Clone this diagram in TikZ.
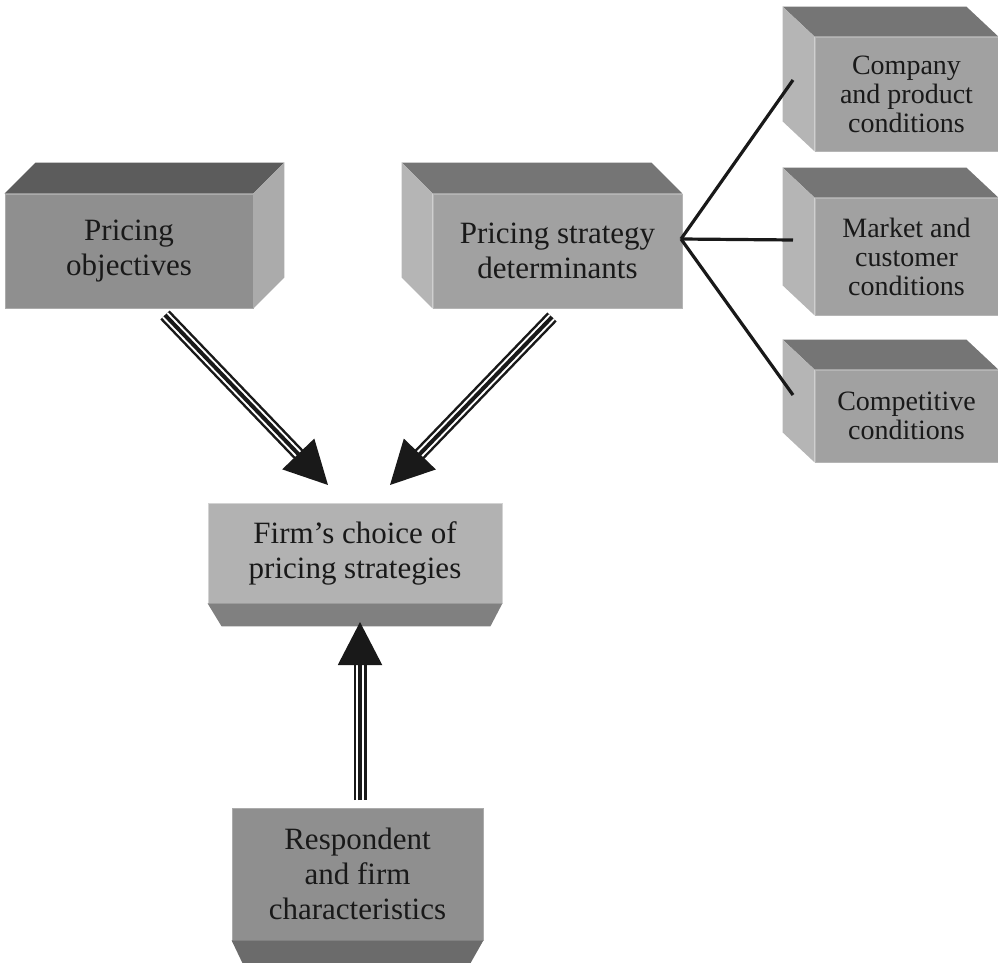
\documentclass[tikz,border=0pt]{standalone}
\usepackage{fontspec}
\setmainfont{Liberation Serif}
\usepackage{tikz}
\usetikzlibrary{arrows.meta,calc}
\definecolor{dfront}{gray}{0.56}
\definecolor{dtop}{gray}{0.36}
\definecolor{dside}{gray}{0.67}
\definecolor{lfront}{gray}{0.63}
\definecolor{ltop}{gray}{0.46}
\definecolor{lside}{gray}{0.71}
\definecolor{ffront}{gray}{0.70}
\definecolor{fbottom}{gray}{0.50}
\definecolor{rbottom}{gray}{0.42}
\newcommand{\bigfont}{\fontsize{15.5}{17.5}\selectfont}
\newcommand{\smallfont}{\fontsize{14}{14.5}\selectfont}
\tikzstyle{box}=[rectangle, inner sep=0pt, align=center, text=black!90, font=\bigfont, line width=0.4pt]
\tikzstyle{darkbox} = [box, fill=dfront, draw=dside]
\tikzstyle{lightbox} = [box, fill=lfront, draw=lside]
\tikzstyle{minorbox} = [lightbox, font=\smallfont]
\tikzstyle{firmbox} = [box, fill=ffront, draw=lside!60!white]
\tikzstyle{link} = [draw, line width=1.6pt, black!90]
\tikzstyle{shaft} = [draw, line width=6.5pt, black!90, postaction={draw=white, line width=4pt}, postaction={draw=black!90, line width=2pt}]
\tikzstyle{head} = [-{Triangle[length=21.5pt,width=22pt]}, line width=1pt, black!90]

\begin{document}
\begin{tikzpicture}[x=0.5pt, y=-0.5pt]
	\useasboundingbox (0,0) rectangle (998,963);

				\node[darkbox, minimum width=124pt, minimum height=57pt] (b_1) at (129,251) {Pricing\\objectives};
				\node[lightbox, minimum width=124.5pt, minimum height=57pt] (b_2) at (557.5,251) {Pricing strategy\\determinants};
				\node[minorbox, minimum width=91.5pt, minimum height=57pt] (m_1) at (906.5,94) {Company\\and product\\conditions};
				\node[minorbox, minimum width=91.5pt, minimum height=58.5pt] (m_2) at (906.5,256.5) {Market and\\customer\\conditions};
				\node[minorbox, minimum width=91.5pt, minimum height=46pt] (m_3) at (906.5,416) {Competitive\\conditions};
				\node[firmbox, minimum width=147pt, minimum height=50pt] (f) at (355,553) {Firm's choice of\\pricing strategies};
				\node[darkbox, minimum width=125.5pt, minimum height=66pt] (r) at (357.5,874) {Respondent\\and firm\\characteristics};

				% faces of the boxes
				\fill[dtop] (b_1.north west) -- ++(31,-31) -- ($(b_1.north east)+(31,-31)$) -- (b_1.north east) -- cycle;
				\fill[dside] (b_1.north east) -- ++(31,-31) -- ($(b_1.south east)+(31,-31)$) -- (b_1.south east) -- cycle;
				\fill[ltop] (b_2.north east) -- ++(-31,-31) -- ($(b_2.north west)+(-31,-31)$) -- (b_2.north west) -- cycle;
				\fill[lside] (b_2.north west) -- ++(-31,-31) -- ($(b_2.south west)+(-31,-31)$) -- (b_2.south west) -- cycle;
				\foreach \m in {m_1, m_2, m_3} {
					\fill[ltop] (\m.north east) -- ++(-32,-30) -- ($(\m.north west)+(-32,-30)$) -- (\m.north west) -- cycle;
					\fill[lside] (\m.north west) -- ++(-32,-30) -- ($(\m.south west)+(-32,-30)$) -- (\m.south west) -- cycle;
				}
				\fill[fbottom] (f.south west) -- ++(14,23) -- ($(f.south east)+(-12,23)$) -- (f.south east) -- cycle;
				\fill[rbottom] (r.south west) -- ++(11,23) -- ($(r.south east)+(-13,23)$) -- (r.south east) -- cycle;

				\coordinate (j) at (681,239);
				\coordinate (e_1) at (793,80);
				\coordinate (e_2) at (793,240);
				\coordinate (e_3) at (793,395);
				\draw[link] (j) -- (e_1);
				\draw[link] (j) -- (e_2);
				\draw[link] (j) -- (e_3);

				\coordinate (t_1) at (165,315);
				\coordinate (h_1) at (328,485);
				\coordinate (t_2) at (552,317);
				\coordinate (h_2) at (390,485);
				\coordinate (t_3) at (360,800);
				\coordinate (h_3) at (360,622);
				\draw[shaft] (t_1) -- ($(h_1)!20pt!(t_1)$);
				\draw[head] ($(h_1)!21pt!(t_1)$) -- (h_1);
				\draw[shaft] (t_2) -- ($(h_2)!20pt!(t_2)$);
				\draw[head] ($(h_2)!21pt!(t_2)$) -- (h_2);
				\draw[shaft] (t_3) -- ($(h_3)!20pt!(t_3)$);
				\draw[head] ($(h_3)!21pt!(t_3)$) -- (h_3);
\end{tikzpicture}
\end{document}
